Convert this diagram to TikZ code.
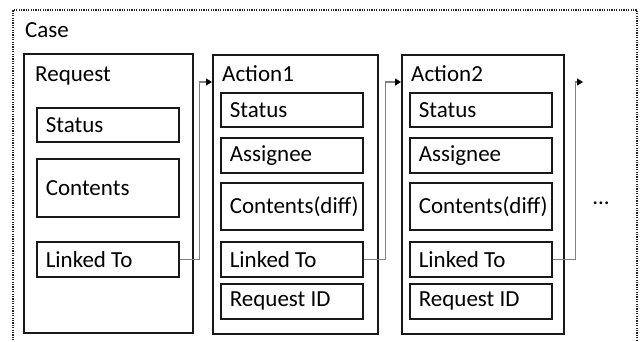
\documentclass[tikz,border=0pt]{standalone}
\usepackage{fontspec}
\setmainfont{Carlito}
\usepackage{xcolor}
\usetikzlibrary{arrows.meta,positioning,calc}
\definecolor{lkgray}{RGB}{128,128,128}

\begin{document}
\begin{tikzpicture}[x=1pt,y=-1pt,font=\fontsize{23}{27}\selectfont,
  box/.style={draw=black!90, line width=1.6pt, anchor=north west, inner sep=0pt},
  field/.style={box, minimum width=142pt, text width=124pt, inner xsep=9pt, align=left,
    execute at begin node={\spaceskip=0pt\relax}},
  title/.style={anchor=base west, inner sep=0pt},
  link/.style={draw=lkgray, line width=1.2pt, -{Triangle[color=black,length=6pt,width=7pt]}},
  casebox/.style={draw=black!85, line width=1.4pt, dash pattern=on 1.2pt off 1.2pt}]
\useasboundingbox (0,0) rectangle (643,341);
% case frame, open at the bottom
\draw[casebox] (13,350) -- (13,10) -- (637,10) -- (637,350);
\node[title] (case) at (25,37) {Case};
% request column
\node[box, minimum width=169pt, minimum height=279pt] (req) at (23,53) {};
\node[title] (req-lbl) at (35,81) {Request};
\node[field, minimum height=34pt] (req-status) at (36,107) {Status};
\node[field, minimum height=58pt] (req-cont) at (36,158) {Contents};
\node[field, minimum height=35pt] (req-link) at (36,241) {Linked To};
% action columns
\foreach \a/\x/\w in {1/212/165, 2/401/162} {
  \node[box, minimum width=\w pt, minimum height=279pt] (act\a) at (\x,54) {};
  \node[title] (act\a-lbl) at (\x+10,81) {Action\a};
  \foreach \f/\y/\h/\t in {status/92/34/Status, assg/137/35/Assignee,
      cont/182/47/Contents(diff), link/241/35/Linked To, reqid/283/35/Request ID}
    \node[field, minimum height=\h pt] (act\a-\f) at (\x+8,\y) {\t};
}
% links between the columns
\draw[link] (req-link.east) -- ++(20,0) |- ([yshift=-28pt]act1.north west);
\draw[link] (act1-link.east) -- ++(22,0) |- ([yshift=-28pt]act2.north west);
\coordinate (more) at (583,82);
\draw[link] (act2-link.east) -- ++(23,0) |- (more);
\node[anchor=base, inner sep=0pt] (dots) at (601,204) {...};
\end{tikzpicture}
\end{document}
